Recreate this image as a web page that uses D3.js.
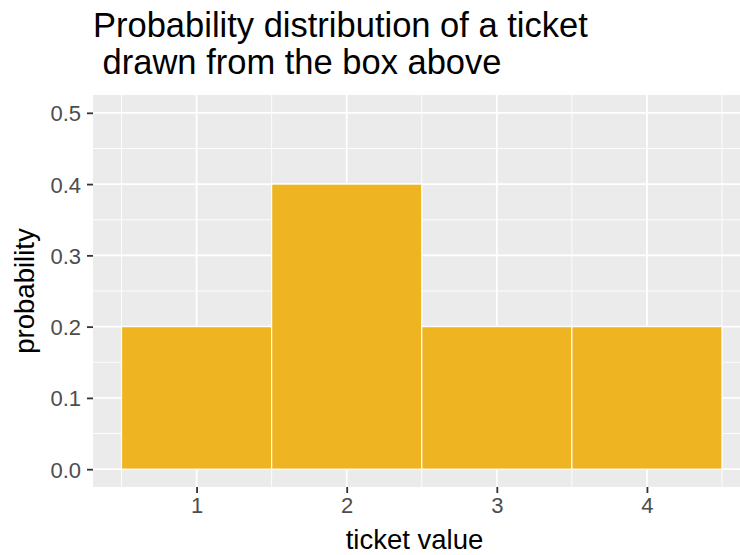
<!DOCTYPE html>
<html lang="en">
<head>
  <meta charset="UTF-8">
  <title>Probability distribution of a ticket</title>
  <script src="https://d3js.org/d3.v7.min.js"></script>
  <style>
    body { margin: 0; background: #fff; }
    svg text { font-family: "Liberation Sans", Arial, sans-serif; }
  </style>
</head>
<body>
  <svg width="740" height="555"></svg>
  <script>
    // data
    const ticketValues = [1, 2, 3, 4];
    const probabilities = [0.2, 0.4, 0.2, 0.2];
    const yTicks = [0.0, 0.1, 0.2, 0.3, 0.4, 0.5];
    const yMinor = [0.05, 0.15, 0.25, 0.35, 0.45];
    const xMinor = [0.5, 1.5, 2.5, 3.5, 4.5];
    const titleLines = ["Probability distribution of a ticket", " drawn from the box above"];

    const width = 740, height = 555;
    const panel = {left: 93, right: 740, top: 95, bottom: 487};

    const svg = d3.select("svg");

    const x = d3.scaleLinear().domain([0.31, 4.62]).range([panel.left, panel.right]);
    const y = d3.scaleLinear().domain([-0.025, 0.525]).range([panel.bottom, panel.top]);

    // panel background
    svg.append("rect")
      .attr("x", panel.left).attr("y", panel.top)
      .attr("width", panel.right - panel.left)
      .attr("height", panel.bottom - panel.top)
      .attr("fill", "#ebebeb");

    const grid = svg.append("g");
    // minor grid
    grid.selectAll(".ymin").data(yMinor).join("line")
      .attr("x1", panel.left).attr("x2", panel.right)
      .attr("y1", d => y(d)).attr("y2", d => y(d))
      .attr("stroke", "#fff").attr("stroke-width", 0.9);
    grid.selectAll(".xmin").data(xMinor).join("line")
      .attr("y1", panel.top).attr("y2", panel.bottom)
      .attr("x1", d => x(d)).attr("x2", d => x(d))
      .attr("stroke", "#fff").attr("stroke-width", 0.9);
    // major grid
    grid.selectAll(".ymaj").data(yTicks).join("line")
      .attr("x1", panel.left).attr("x2", panel.right)
      .attr("y1", d => y(d)).attr("y2", d => y(d))
      .attr("stroke", "#fff").attr("stroke-width", 1.8);
    grid.selectAll(".xmaj").data(ticketValues).join("line")
      .attr("y1", panel.top).attr("y2", panel.bottom)
      .attr("x1", d => x(d)).attr("x2", d => x(d))
      .attr("stroke", "#fff").attr("stroke-width", 1.8);

    // bars
    svg.append("g").selectAll("rect")
      .data(ticketValues.map((v, i) => ({v, p: probabilities[i]})))
      .join("rect")
      .attr("x", d => x(d.v - 0.5))
      .attr("width", d => x(d.v + 0.5) - x(d.v - 0.5))
      .attr("y", d => y(d.p))
      .attr("height", d => y(0) - y(d.p))
      .attr("fill", "#eeb422")
      .attr("stroke", "#fff")
      .attr("stroke-width", 1.2);

    // axes
    const yAxis = svg.append("g")
      .attr("transform", `translate(${panel.left},0)`)
      .call(d3.axisLeft(y).tickValues(yTicks).tickFormat(d3.format(".1f")).tickSize(6).tickPadding(6));
    const xAxis = svg.append("g")
      .attr("transform", `translate(0,${panel.bottom})`)
      .call(d3.axisBottom(x).tickValues(ticketValues).tickFormat(d3.format("d")).tickSize(6).tickPadding(4));
    [yAxis, xAxis].forEach(a => {
      a.select(".domain").remove();
      a.selectAll(".tick line").attr("stroke", "#333").attr("stroke-width", 1.8);
      a.selectAll(".tick text").attr("fill", "#4d4d4d").attr("font-size", 22)
        .style("font-family", "'Liberation Sans', Arial, sans-serif");
    });
    yAxis.selectAll(".tick text").attr("dy", "0.36em");
    xAxis.selectAll(".tick text").attr("dy", "0.72em");

    // axis titles
    svg.append("text")
      .attr("x", (panel.left + panel.right) / 2 - 2)
      .attr("y", 549)
      .attr("text-anchor", "middle")
      .attr("font-size", 27.5)
      .attr("fill", "#000")
      .text("ticket value");
    svg.append("text")
      .attr("transform", `translate(34,${(panel.top + panel.bottom) / 2}) rotate(-90)`)
      .attr("text-anchor", "middle")
      .attr("font-size", 27.5)
      .attr("fill", "#000")
      .text("probability");

    // title
    svg.append("text")
      .attr("font-size", 34.5)
      .attr("fill", "#000")
      .selectAll("tspan").data(titleLines).join("tspan")
      .attr("x", 93)
      .attr("y", (d, i) => 37 + i * 36.5)
      .attr("xml:space", "preserve")
      .style("white-space", "pre")
      .text(d => d);
  </script>
</body>
</html>
